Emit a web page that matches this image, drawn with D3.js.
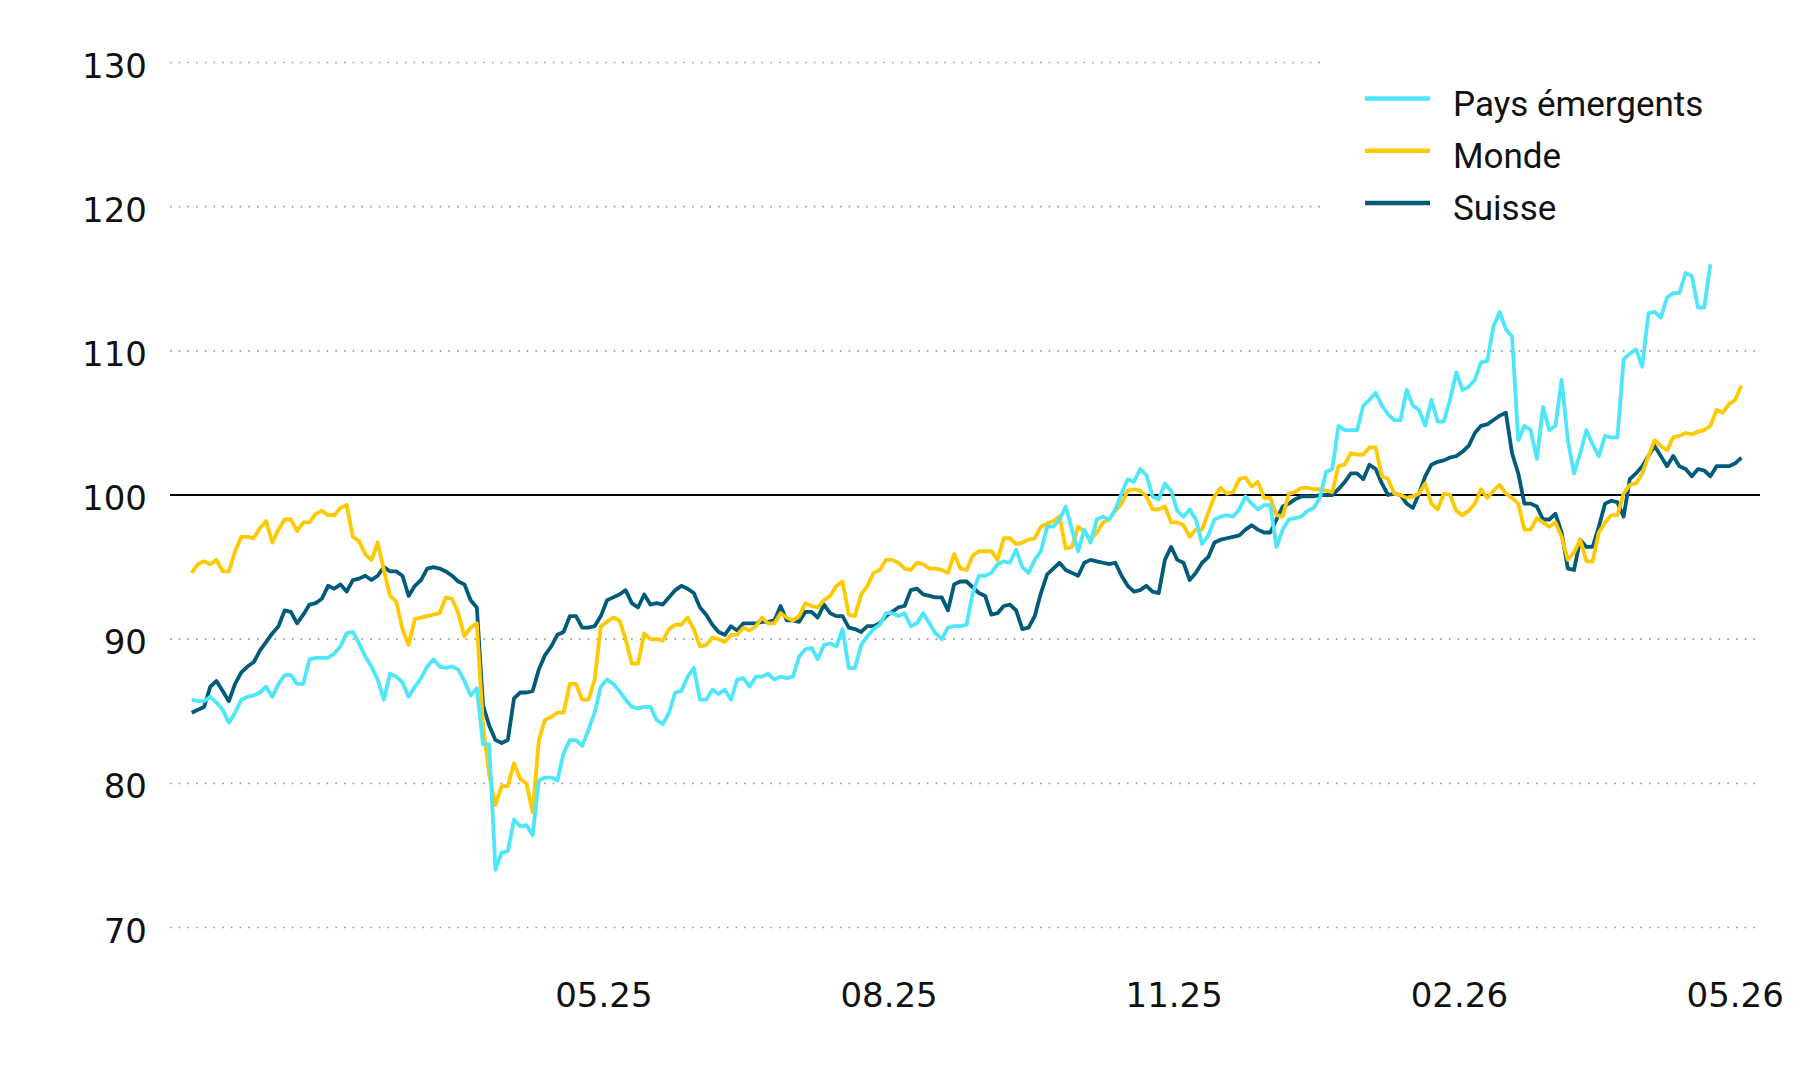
<!DOCTYPE html>
<html lang="fr">
<head>
  <meta charset="UTF-8">
  <title>Indices actions</title>
  <script src="https://d3js.org/d3.v7.min.js"></script>
  <style>
    body { margin: 0; background: #fff; }
    .tick-label { font-family: "DejaVu Sans", sans-serif; font-size: 34px; fill: #111; }
    .legend text { font-family: Roboto, "Noto Sans", sans-serif; font-size: 35px; fill: #111; }
  </style>
</head>
<body>
<svg width="1800" height="1080"></svg>

<script>
  // one value every 2 days, starting 19.12.2024
  const startDate = new Date(2024, 11, 19);
  const stepDays = 2;

  const paysEmergents = [
    85.8, 85.7, 85.7, 86.0, 85.6, 85.1, 84.2, 84.9, 85.8, 86.0, 86.1, 86.3, 86.7, 86.0, 86.9, 87.5, 87.5, 86.9, 86.9, 88.6,
    88.7, 88.7, 88.7, 89.0, 89.5, 90.4, 90.5, 89.7, 88.8, 88.1, 87.2, 85.8, 87.6, 87.4, 87.0, 86.0, 86.7, 87.3, 88.1, 88.6,
    88.1, 88.0, 88.1, 87.9, 87.1, 86.1, 86.6, 82.7, 82.7, 74.0, 75.2, 75.3, 77.5, 77.0, 77.1, 76.4, 80.2, 80.4, 80.4, 80.2,
    82.1, 83.0, 83.0, 82.6, 83.7, 84.9, 86.7, 87.2, 86.9, 86.4, 85.8, 85.3, 85.2, 85.3, 85.3, 84.4, 84.1, 84.9, 86.3, 86.4,
    87.4, 88.0, 85.8, 85.8, 86.5, 86.2, 86.5, 85.8, 87.2, 87.3, 86.7, 87.4, 87.4, 87.6, 87.2, 87.4, 87.3, 87.4, 88.8, 89.3,
    89.4, 88.6, 89.6, 89.7, 89.5, 90.7, 88.0, 88.0, 89.6, 90.2, 90.7, 91.0, 91.8, 91.8, 91.6, 91.8, 90.9, 91.1, 91.8, 91.1,
    90.4, 90.0, 90.8, 90.9, 90.9, 91.0, 93.2, 94.4, 94.4, 94.6, 95.2, 95.4, 95.3, 96.2, 95.0, 94.6, 95.5, 96.1, 97.8, 97.8,
    98.3, 99.2, 97.6, 96.1, 97.6, 96.7, 98.3, 98.5, 98.3, 99.0, 100.1, 101.1, 100.9, 101.8, 101.4, 99.9, 99.7, 100.8, 100.3, 98.9,
    98.5, 99.0, 98.3, 96.6, 97.2, 98.3, 98.5, 98.6, 98.5, 99.0, 99.9, 99.4, 99.0, 99.3, 99.3, 96.4, 97.6, 98.3, 98.4, 98.5,
    98.9, 99.1, 99.8, 101.6, 101.8, 104.8, 104.5, 104.5, 104.5, 106.2, 106.6, 107.1, 106.2, 105.6, 105.2, 105.2, 107.3, 106.2, 105.9, 104.8,
    106.6, 105.1, 105.1, 106.6, 108.5, 107.3, 107.5, 108.0, 109.2, 109.3, 111.7, 112.7, 111.5, 111.0, 103.8, 104.8, 104.5, 102.5, 106.1, 104.5,
    104.8, 108.0, 103.8, 101.5, 102.9, 104.5, 103.5, 102.7, 104.1, 104.0, 104.0, 109.4, 109.8, 110.1, 108.9, 112.6, 112.7, 112.3, 113.7, 114.0,
    114.0, 115.4, 115.2, 113.0, 113.0, 116.0, null, null, null, null, null
  ];

  const monde = [
    94.6, 95.2, 95.4, 95.2, 95.5, 94.7, 94.7, 96.1, 97.1, 97.1, 97.0, 97.7, 98.2, 96.7, 97.6, 98.3, 98.3, 97.5, 98.1, 98.1,
    98.7, 98.9, 98.6, 98.6, 99.1, 99.3, 97.1, 96.8, 95.9, 95.5, 96.7, 94.8, 93.0, 92.6, 90.7, 89.6, 91.4, 91.5, 91.6, 91.7,
    91.8, 92.9, 92.8, 91.8, 90.2, 90.8, 91.1, 84.0, 80.6, 78.5, 79.8, 79.8, 81.4, 80.3, 80.0, 78.0, 83.0, 84.4, 84.6, 84.9,
    84.9, 86.9, 86.9, 85.8, 85.8, 87.2, 90.9, 91.2, 91.5, 91.3, 90.0, 88.3, 88.3, 90.4, 90.0, 90.0, 89.9, 90.7, 91.0, 91.0,
    91.5, 90.7, 89.5, 89.6, 90.1, 90.0, 89.8, 90.3, 90.3, 90.8, 90.6, 90.9, 91.5, 91.1, 91.1, 91.8, 91.5, 91.3, 91.6, 92.5,
    92.3, 92.2, 92.7, 93.0, 93.7, 94.0, 91.7, 91.6, 93.1, 93.7, 94.6, 94.8, 95.5, 95.5, 95.3, 94.9, 94.8, 95.3, 95.2, 94.9,
    94.9, 94.8, 94.6, 95.9, 94.9, 94.8, 95.8, 96.1, 96.1, 96.1, 95.5, 97.0, 97.0, 96.6, 96.7, 96.9, 97.0, 97.8, 98.0, 98.2,
    98.5, 96.3, 96.4, 97.8, 97.4, 96.9, 97.4, 98.1, 98.3, 98.9, 99.4, 100.3, 100.4, 100.3, 99.9, 99.0, 99.0, 99.2, 98.1, 98.1,
    97.9, 97.1, 97.6, 97.6, 98.8, 99.9, 100.5, 100.1, 100.2, 101.1, 101.2, 100.6, 100.9, 99.8, 99.8, 98.6, 98.5, 100.1, 100.2, 100.5,
    100.5, 100.4, 100.4, 100.3, 100.2, 102.0, 102.1, 102.9, 102.8, 102.8, 103.3, 103.3, 101.3, 101.1, 100.1, 100.0, 99.8, 99.9, 100.1, 100.8,
    99.4, 99.0, 100.1, 100.0, 98.9, 98.6, 98.9, 99.4, 100.4, 99.8, 100.3, 100.7, 100.1, 99.8, 99.4, 97.6, 97.6, 98.4, 98.1, 97.8,
    98.1, 97.1, 95.5, 96.0, 96.9, 95.4, 95.4, 97.4, 98.1, 98.6, 98.6, 100.1, 100.7, 100.8, 101.5, 102.7, 103.8, 103.4, 103.1, 104.0,
    104.1, 104.3, 104.2, 104.4, 104.5, 104.8, 105.9, 105.7, 106.3, 106.6, 107.6
  ];

  const suisse = [
    84.9, 85.1, 85.3, 86.7, 87.1, 86.4, 85.7, 86.9, 87.7, 88.1, 88.4, 89.2, 89.8, 90.4, 90.9, 92.0, 91.9, 91.1, 91.7, 92.4,
    92.5, 92.8, 93.7, 93.5, 93.8, 93.3, 94.1, 94.2, 94.4, 94.1, 94.4, 95.0, 94.7, 94.7, 94.4, 93.0, 93.7, 94.1, 94.9, 95.0,
    94.9, 94.7, 94.4, 94.0, 93.8, 92.7, 92.2, 85.4, 84.0, 83.0, 82.8, 83.0, 85.9, 86.3, 86.3, 86.4, 87.9, 88.9, 89.5, 90.3,
    90.5, 91.6, 91.6, 90.8, 90.8, 90.9, 91.6, 92.7, 92.9, 93.1, 93.4, 92.5, 92.2, 93.1, 92.4, 92.5, 92.4, 92.9, 93.4, 93.7,
    93.5, 93.2, 92.2, 91.7, 91.0, 90.5, 90.3, 90.9, 90.6, 91.1, 91.1, 91.1, 91.2, 91.2, 91.3, 92.3, 91.3, 91.3, 91.2, 91.9,
    91.9, 91.5, 92.4, 91.8, 91.6, 91.6, 90.8, 90.7, 90.5, 90.9, 90.9, 91.1, 91.6, 91.9, 92.2, 92.3, 93.4, 93.5, 93.1, 93.0,
    92.9, 92.9, 92.0, 93.8, 94.0, 94.0, 93.6, 93.2, 93.0, 91.7, 91.8, 92.3, 92.4, 92.0, 90.7, 90.8, 91.6, 93.2, 94.5, 94.9,
    95.3, 94.8, 94.6, 94.4, 95.3, 95.5, 95.4, 95.3, 95.2, 95.3, 94.4, 93.7, 93.3, 93.4, 93.7, 93.3, 93.2, 95.5, 96.4, 95.5,
    95.3, 94.1, 94.6, 95.3, 95.7, 96.7, 96.9, 97.0, 97.1, 97.2, 97.6, 97.9, 97.6, 97.4, 97.4, 98.3, 99.2, 99.4, 99.7, 99.9,
    99.9, 99.9, 100.0, 100.0, 100.0, 100.4, 100.9, 101.5, 101.5, 101.1, 102.1, 101.8, 100.8, 100.0, 100.1, 100.0, 99.4, 99.1, 100.1, 101.3,
    102.1, 102.3, 102.4, 102.6, 102.7, 103.0, 103.4, 104.3, 104.8, 104.9, 105.2, 105.5, 105.7, 102.9, 101.5, 99.4, 99.4, 99.2, 98.3, 98.3,
    98.7, 97.4, 94.9, 94.8, 96.9, 96.4, 96.4, 97.8, 99.4, 99.6, 99.5, 98.5, 101.1, 101.5, 102.0, 102.7, 103.4, 102.7, 102.0, 102.7,
    102.0, 101.8, 101.3, 101.8, 101.7, 101.3, 102.0, 102.0, 102.0, 102.2, 102.6
  ];

  const yTicks = [70, 80, 90, 100, 110, 120, 130];
  const xTicks = ["2025-05-01", "2025-08-01", "2025-11-01", "2026-02-01", "2026-05-01"];

  const seriesNames = ["Pays émergents", "Monde", "Suisse"];
  const seriesColors = ["#4de6fb", "#ffc900", "#005b7a"];

  const svg = d3.select("svg");
  const parse = d3.timeParse("%Y-%m-%d");

  const x = d3.scaleTime()
    .domain([parse("2024-12-12"), parse("2026-05-09")])
    .range([170, 1760]);

  const y = d3.scaleLinear()
    .domain([70, 130])
    .range([927.5, 62.5]);

  const dates = suisse.map((_, i) => d3.timeDay.offset(startDate, stepDays * i));

  // gridlines (the top two stop before the legend)
  svg.append("g")
    .selectAll("line")
    .data(yTicks.filter(t => t !== 100))
    .join("line")
      .attr("x1", 170)
      .attr("x2", d => d >= 120 ? 1322 : 1760)
      .attr("y1", d => y(d))
      .attr("y2", d => y(d))
      .attr("stroke", "#9a9a9a")
      .attr("stroke-width", 1.6)
      .attr("stroke-dasharray", "1.6 7.1");

  // y labels
  svg.append("g")
    .selectAll("text")
    .data(yTicks)
    .join("text")
      .attr("class", "tick-label")
      .attr("x", 147)
      .attr("y", d => y(d) + 15)
      .attr("text-anchor", "end")
      .text(d => d);

  // x labels
  const fmt = d3.timeFormat("%m.%y");
  svg.append("g")
    .selectAll("text")
    .data(xTicks.map(parse))
    .join("text")
      .attr("class", "tick-label")
      .attr("x", d => x(d))
      .attr("y", 1007)
      .attr("text-anchor", "middle")
      .text(d => fmt(d));

  // base 100
  svg.append("line")
    .attr("x1", 170).attr("x2", 1760)
    .attr("y1", y(100)).attr("y2", y(100))
    .attr("stroke", "#000")
    .attr("stroke-width", 2);

  const line = d3.line()
    .defined(d => d.v != null)
    .x(d => x(d.date))
    .y(d => y(d.v));

  const allValues = [paysEmergents, monde, suisse];

  // Suisse first, emerging markets on top
  [2, 1, 0].forEach(k => {
    svg.append("path")
      .datum(allValues[k].map((v, i) => ({ date: dates[i], v })))
      .attr("fill", "none")
      .attr("stroke", seriesColors[k])
      .attr("stroke-width", 3.8)
      .attr("stroke-linejoin", "round")
      .attr("d", line);
  });

  // legend
  const legend = svg.append("g").attr("class", "legend");
  const item = legend.selectAll("g")
    .data(seriesNames)
    .join("g")
      .attr("transform", (d, i) => `translate(1365,${98.5 + i * 52.3})`);

  item.append("line")
    .attr("x1", 0).attr("x2", 65)
    .attr("stroke", (d, i) => seriesColors[i])
    .attr("stroke-width", 4.5);

  item.append("text")
    .attr("x", 88)
    .attr("y", 17)
    .text(d => d);
</script>
</body>
</html>
